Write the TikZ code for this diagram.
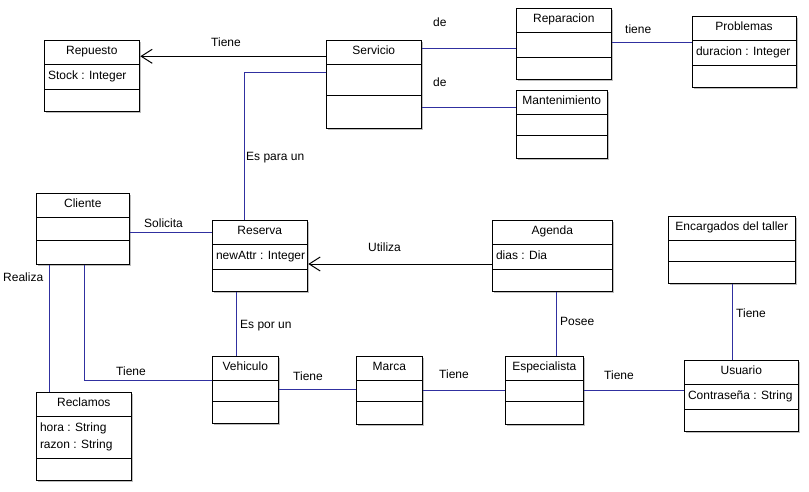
\documentclass[tikz,border=0pt]{standalone}
\usepackage{fontspec}
\setmainfont{Liberation Sans}
\usetikzlibrary{arrows.meta}
\definecolor{assocblue}{RGB}{48,48,160}
\definecolor{shadowgray}{RGB}{190,190,190}
\tikzset{
  classbox/.style={draw=black, fill=white, line width=1pt, inner sep=0pt, rectangle},
  divider/.style={draw=black, line width=1pt},
  boxshadow/.style={fill=shadowgray},
  titletext/.style={inner sep=0pt, anchor=base, font=\fontsize{12}{14}\selectfont},
  attrtext/.style={inner sep=0pt, anchor=base west, font=\fontsize{12}{14}\selectfont},
  lbl/.style={inner sep=0pt, anchor=base west, font=\fontsize{12}{14}\selectfont},
  assoc/.style={draw=assocblue, line width=1pt},
  navarrow/.style={draw=black, line width=1pt, -{Straight Barb[length=11pt,width=14pt,line width=1pt]}},
}
% name, x1, y1, x2, y2, divider1, divider2, title, first attribute
\newcommand{\umlbox}[9]{%
  \fill[boxshadow] (#2+2,#3+2) rectangle (#4+2,#5+2);
  \node[classbox, minimum width={#4-#2}, minimum height={#5-#3}, anchor=north west] (#1) at (#2,#3) {};
  \draw[divider] (#2,#6) -- (#4,#6) (#2,#7) -- (#4,#7);
  \node[titletext] (#1-title) at ({(#2+#4)/2},#3+14) {#8};
  \node[attrtext] (#1-attr) at (#2+3.5,#6+15) {#9};
}
\begin{document}
\begin{tikzpicture}[x=1pt,y=-1pt]
\fill[white] (0,0) rectangle (809,491);
\useasboundingbox (0,0) rectangle (809,491);

% classes
\umlbox{rep}{44.3}{40.3}{139.3}{111}{64.3}{89.3}{Repuesto}{Stock : Integer}
\umlbox{serv}{326.3}{40.3}{421.3}{128.3}{64.3}{95.3}{Servicio}{}
\umlbox{repa}{516.3}{8.3}{611.3}{79.3}{32.3}{57.3}{Reparacion}{}
\umlbox{prob}{692.3}{16.3}{795.7}{87.3}{40.3}{65.3}{Problemas}{duracion : Integer}
\umlbox{mant}{516.3}{90.3}{607.3}{158}{114.3}{135.3}{Mantenimiento}{}
\umlbox{cli}{36.3}{193.3}{129.3}{263.7}{217.3}{240.3}{Cliente}{}
\umlbox{res}{212.3}{220.3}{307.3}{291}{244.3}{269.3}{Reserva}{newAttr : Integer}
\umlbox{age}{492.3}{220.3}{612.3}{291.3}{244.3}{269.3}{Agenda}{dias : Dia}
\umlbox{enc}{668.3}{216.3}{795.3}{283.3}{240.3}{261.3}{Encargados del taller}{}
\umlbox{veh}{212.3}{356.3}{278.3}{423.3}{380.3}{401.3}{Vehiculo}{}
\umlbox{mar}{356.3}{356.3}{422.3}{424.3}{380.3}{401.3}{Marca}{}
\umlbox{esp}{505.3}{356.3}{583.3}{424.3}{380.3}{401.3}{Especialista}{}
\umlbox{usu}{684.3}{360.3}{798.3}{431}{384.3}{409.3}{Usuario}{Contraseña : String}
\umlbox{rec}{36.3}{392.3}{131.3}{480.3}{416.3}{458.3}{Reclamos}{hora : String}
\node[attrtext] (rec-attr2) at (39.8,448.3) {razon : String};

% connectors
\draw[navarrow] (serv.west |- 0,56.3) -- (rep.east |- 0,56.3);
\draw[assoc] (serv.west |- 0,72) -| (res.north -| 244.3,0);
\draw[assoc] (serv.east |- 0,48.3) -- (repa.west |- 0,48.3);
\draw[assoc] (serv.east |- 0,107.3) -- (mant.west |- 0,107.3);
\draw[assoc] (repa.east |- 0,42.3) -- (prob.west |- 0,42.3);
\draw[assoc] (cli.east |- 0,232) -- (res.west |- 0,232);
\draw[navarrow] (age.west |- 0,264) -- (res.east |- 0,264);
\draw[assoc] (res.south -| 236.3,0) -- (veh.north -| 236.3,0);
\draw[assoc] (cli.south -| 49.3,0) -- (rec.north -| 49.3,0);
\draw[assoc] (cli.south -| 84.7,0) |- (veh.west |- 0,380.3);
\draw[assoc] (veh.east |- 0,389.3) -- (mar.west |- 0,389.3);
\draw[assoc] (mar.east |- 0,390.3) -- (esp.west |- 0,390.3);
\draw[assoc] (esp.east |- 0,390.3) -- (usu.west |- 0,390.3);
\draw[assoc] (age.south -| 556.3,0) -- (esp.north -| 556.3,0);
\draw[assoc] (enc.south -| 732.3,0) -- (usu.north -| 732.3,0);

% connector labels
\node[lbl] (l-tiene1) at (211,46) {Tiene};
\node[lbl] (l-de1) at (433,26.7) {de};
\node[lbl] (l-de2) at (433,86.7) {de};
\node[lbl] (l-tiene2) at (625,33.3) {tiene};
\node[lbl] (l-espara) at (246,160.5) {Es para un};
\node[lbl] (l-solicita) at (144,227) {Solicita};
\node[lbl] (l-realiza) at (3,281.5) {Realiza};
\node[lbl] (l-utiliza) at (368,251) {Utiliza};
\node[lbl] (l-espor) at (240,328.5) {Es por un};
\node[lbl] (l-tiene3) at (116,375.5) {Tiene};
\node[lbl] (l-tiene4) at (293,380.5) {Tiene};
\node[lbl] (l-posee) at (560,325) {Posee};
\node[lbl] (l-tiene5) at (736,317) {Tiene};
\node[lbl] (l-tiene6) at (439,378.8) {Tiene};
\node[lbl] (l-tiene7) at (604,379.8) {Tiene};
\end{tikzpicture}
\end{document}
